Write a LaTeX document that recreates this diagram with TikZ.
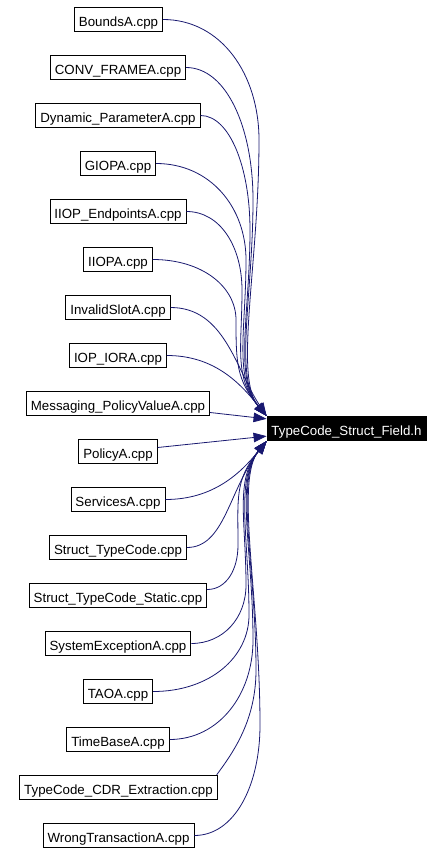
\documentclass[tikz,border=0pt]{standalone}
\usepackage{fontspec}
\setmainfont{Liberation Sans}
\usetikzlibrary{arrows.meta}
\definecolor{edgeblue}{HTML}{191970}
\begin{document}
\begin{tikzpicture}[x=1pt,y=-1pt,
  filebox/.style={draw=black, line width=0.8pt, fill=white, minimum height=24.5pt,
    inner xsep=4.5pt, inner ysep=0pt, text height=14.5pt, text depth=0pt,
    font=\fontsize{13.3}{16}\selectfont},
  tgtbox/.style={filebox, fill=black, text=white},
  conn/.style={draw=edgeblue, line width=0.8pt, -{Triangle[length=13pt,width=9.5pt]}}]
\useasboundingbox (0,0) rectangle (443,854);
\node[filebox] (s1)  at (118.5,19.5)  {BoundsA.cpp};
\node[filebox] (s2)  at (118,67.5)    {CONV\_FRAMEA.cpp};
\node[filebox] (s3)  at (118,115.5)   {Dynamic\_ParameterA.cpp};
\node[filebox] (s4)  at (118,163.5)   {GIOPA.cpp};
\node[filebox] (s5)  at (118,211.5)   {IIOP\_EndpointsA.cpp};
\node[filebox] (s6)  at (118,259.5)   {IIOPA.cpp};
\node[filebox] (s7)  at (118,307.5)   {InvalidSlotA.cpp};
\node[filebox] (s8)  at (118,355.5)   {IOP\_IORA.cpp};
\node[filebox] (s9)  at (118,403.5)   {Messaging\_PolicyValueA.cpp};
\node[filebox] (s10) at (118,451.5)   {PolicyA.cpp};
\node[filebox] (s11) at (118,499.5)   {ServicesA.cpp};
\node[filebox] (s12) at (118,547.5)   {Struct\_TypeCode.cpp};
\node[filebox] (s13) at (118,595.5)   {Struct\_TypeCode\_Static.cpp};
\node[filebox] (s14) at (118,643.5)   {SystemExceptionA.cpp};
\node[filebox] (s15) at (118,691.5)   {TAOA.cpp};
\node[filebox] (s16) at (118,739.5)   {TimeBaseA.cpp};
\node[filebox] (s17) at (118.5,787.5) {TypeCode\_CDR\_Extraction.cpp};
\node[filebox] (s18) at (118.5,835.5) {WrongTransactionA.cpp};
\node[tgtbox]  (t)   at (346.5,428.5) {TypeCode\_Struct\_Field.h};
% upper group
\draw[conn] (s1.east) .. controls +(58,0) and +(0,-66) .. (259,140) .. controls +(0,125) and +(-33,-39) .. (t.north west);
\draw[conn] (s2.east) .. controls +(40,0) and +(0,-73) .. (253,200) .. controls +(0,97) and +(-33,-39) .. (t.north west);
\draw[conn] (s3.east) .. controls +(29,0) and +(0,-63) .. (250,230) .. controls +(0,84) and +(-33,-39) .. (t.north west);
\draw[conn] (s4.east) .. controls +(54,0) and +(0,-53) .. (246,260) .. controls +(0,70) and +(-33,-39) .. (t.north west);
\draw[conn] (s5.east) .. controls +(34,0) and +(0,-43) .. (242,290) .. controls +(0,57) and +(-33,-39) .. (t.north west);
\draw[conn] (s6.east) .. controls +(50,0) and +(0,-33) .. (236,320) .. controls +(0,43) and +(-30,-36) .. (t.north west);
\draw[conn] (s7.east) .. controls +(54,0) and +(-31,-47) .. (t.north west);
\draw[conn] (s8.east) .. controls +(48,0) and +(-26,-32) .. (t.north west);
\draw[conn] ([yshift=-9pt]s9.east) -- ([yshift=-3pt]t.north west);
\draw[conn] ([yshift=4pt]s10.east) -- ([yshift=5pt]t.south west);
% lower group
\draw[conn] (s11.east) .. controls +(48,0) and +(-26,32) .. (t.south west);
\draw[conn] (s12.east) .. controls +(38,0) and +(-38,49) .. (t.south west);
\draw[conn] ([yshift=6pt]s13.east) .. controls +(19,0) and +(0,25) .. (238,545) .. controls +(0,-47) and +(-32,39) .. (t.south west);
\draw[conn] (s14.east) .. controls +(32,0) and +(0,33) .. (246,585) .. controls +(0,-65) and +(-32,39) .. (t.south west);
\draw[conn] (s15.east) .. controls +(57,0) and +(0,42) .. (249,615) .. controls +(0,-78) and +(-32,39) .. (t.south west);
\draw[conn] (s16.east) .. controls +(49,0) and +(0,55) .. (253,640) .. controls +(0,-90) and +(-32,39) .. (t.south west);
\draw[conn] ([xshift=-1pt]s17.north east) .. controls +(17,-23) and +(0,50) .. (256,670) .. controls +(0,-103) and +(-32,39) .. (t.south west);
\draw[conn] (s18.east) .. controls +(40,0) and +(0,61) .. (260,725) .. controls +(0,-128) and +(-32,39) .. (t.south west);
\end{tikzpicture}
\end{document}
